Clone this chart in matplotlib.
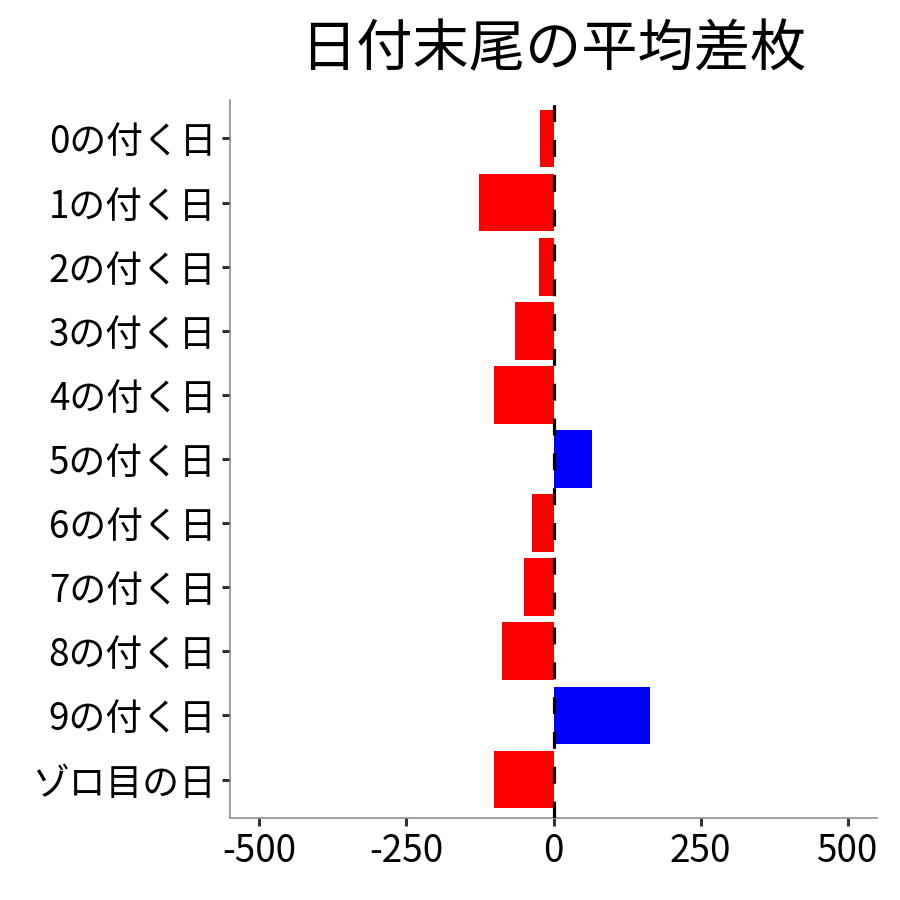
import matplotlib
matplotlib.use('Agg')
import matplotlib.pyplot as plt

plt.rcParams['font.family'] = ['Noto Sans CJK JP', 'DejaVu Sans']
plt.rcParams['axes.unicode_minus'] = False

labels = ['0の付く日', '1の付く日', '2の付く日', '3の付く日', '4の付く日',
          '5の付く日', '6の付く日', '7の付く日', '8の付く日', '9の付く日',
          'ゾロ目の日']
diff = [-23, -126, -25, -66, -101, 65, -37, -50, -88, 164, -101]
xticks = [-500, -250, 0, 250, 500]

colors = ['#0000FF' if v > 0 else '#FF0000' for v in diff]
ypos = list(range(len(labels)))

fig = plt.figure(figsize=(9, 9), dpi=100)
ax = fig.add_axes([0.2556, 0.0911, 0.7189, 0.7978])

ax.barh(ypos, diff, height=0.9, color=colors, zorder=2)
ax.axvline(0, color='black', lw=2.3, linestyle=(0, (5.3, 5.6)), zorder=3)

ax.set_xlim(-550, 550)
ax.set_ylim(len(labels) - 0.4, -0.6)
ax.set_yticks(ypos)
ax.set_yticklabels(labels)
ax.set_xticks(xticks)
ax.set_xticklabels([str(t) for t in xticks])

for s in ['top', 'right']:
    ax.spines[s].set_visible(False)
for s in ['left', 'bottom']:
    ax.spines[s].set_color('#888888')
    ax.spines[s].set_linewidth(1.1)

ax.tick_params(axis='both', colors='#333333', width=2.2, length=6,
               labelsize=26.5, labelcolor='black', pad=4)

ax.set_title('日付末尾の平均差枚', fontsize=40.5, pad=24)

fig.savefig('out.png', dpi=100)
